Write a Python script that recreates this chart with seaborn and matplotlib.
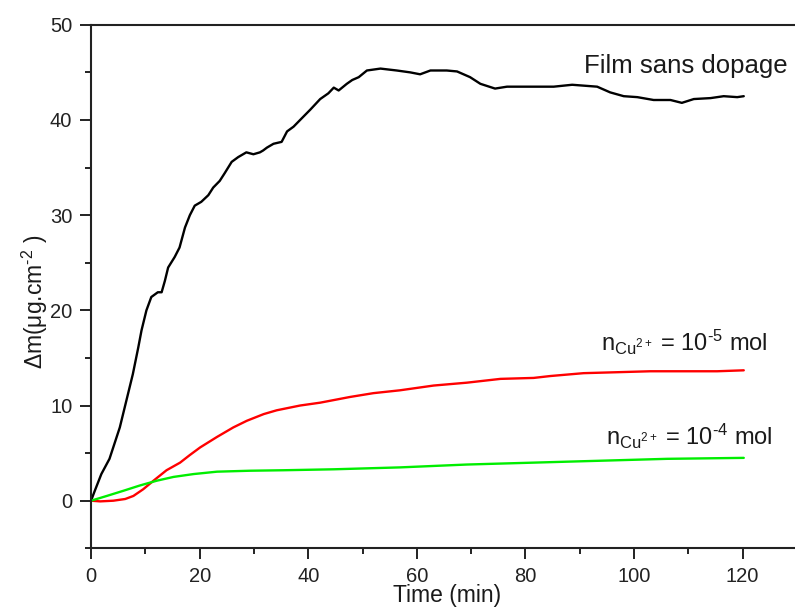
import numpy as np
import pandas as pd
import matplotlib
matplotlib.use("Agg")
import matplotlib.pyplot as plt
from matplotlib.ticker import MultipleLocator
import seaborn as sns

# ---- data ----
t_black = [0, 0.7, 1.9, 3.4, 5.3, 6.8, 7.7, 8.7, 9.3, 10.2, 11.1, 12.3, 13.0, 13.6,
           14.2, 15.4, 16.3, 17.3, 18.2, 19.1, 20.3, 21.6, 22.5, 23.7, 24.6, 25.9,
           27.1, 28.6, 29.9, 31.1, 31.7, 32.4, 33.6, 35.1, 36.1, 37.3, 38.5, 40.4,
           42.2, 43.7, 44.7, 45.6, 47.1, 48.1, 49.3, 50.8, 53.3, 56.3, 58.8, 60.6,
           62.5, 65.5, 67.4, 69.8, 71.7, 74.4, 76.6, 80.3, 85.2, 88.6, 93.2, 95.6,
           98.1, 100.6, 103.6, 106.7, 108.8, 111.0, 114.1, 116.5, 119.0, 120.2]
v_black = [0, 1.05, 2.8, 4.4, 7.7, 11.2, 13.3, 16.1, 17.9, 20.0, 21.4, 21.9, 21.9, 23.1,
           24.5, 25.6, 26.6, 28.7, 30.0, 31.0, 31.4, 32.1, 32.9, 33.6, 34.4, 35.6,
           36.1, 36.6, 36.4, 36.6, 36.8, 37.1, 37.5, 37.7, 38.8, 39.3, 40.0, 41.1,
           42.2, 42.8, 43.4, 43.1, 43.8, 44.2, 44.5, 45.2, 45.4, 45.2, 45.0, 44.8,
           45.2, 45.2, 45.1, 44.5, 43.8, 43.3, 43.5, 43.5, 43.5, 43.7, 43.5, 42.9,
           42.5, 42.4, 42.1, 42.1, 41.8, 42.2, 42.3, 42.5, 42.4, 42.5]

t_red = [0, 1.7, 4.1, 6.3, 7.8, 9.6, 11.5, 13.9, 16.4, 18.2, 20.1, 23.2, 26.2, 28.7,
         31.8, 34.2, 38.5, 42.2, 47.7, 52.0, 56.9, 63.1, 69.2, 75.4, 81.5, 84.6,
         90.7, 96.9, 103.0, 109.1, 115.3, 120.2]
v_red = [0, -0.07, 0.0, 0.18, 0.5, 1.2, 2.1, 3.2, 4.0, 4.8, 5.6, 6.7, 7.7, 8.4,
         9.1, 9.5, 10.0, 10.3, 10.9, 11.3, 11.6, 12.1, 12.4, 12.8, 12.9, 13.1,
         13.4, 13.5, 13.6, 13.6, 13.6, 13.7]

t_green = [0, 2.9, 6.0, 9.0, 12.1, 15.2, 18.9, 23.2, 29.3, 35.4, 44.7, 56.9, 69.2,
           81.5, 93.8, 106.1, 120.2]
v_green = [0, 0.5, 1.05, 1.6, 2.1, 2.5, 2.8, 3.05, 3.15, 3.2, 3.3, 3.5, 3.8,
           4.0, 4.2, 4.4, 4.5]

x_ticks = [0, 20, 40, 60, 80, 100, 120]
y_ticks = [0, 10, 20, 30, 40, 50]

label_black = "Film sans dopage"
label_red = r"$\mathregular{n_{Cu^{2+}}}$ = 10$^{\text{-5}}$ mol"
label_green = r"$\mathregular{n_{Cu^{2+}}}$ = 10$^{\text{-4}}$ mol"

# ---- styling ----
sns.set_style("ticks")
plt.rcParams["font.family"] = ["Liberation Sans", "DejaVu Sans"]
plt.rcParams["mathtext.fontset"] = "custom"
plt.rcParams["mathtext.rm"] = "Liberation Sans"
plt.rcParams["mathtext.it"] = "Liberation Sans:italic"
plt.rcParams["mathtext.bf"] = "Liberation Sans:bold"
plt.rcParams["mathtext.sf"] = "Liberation Sans"
plt.rcParams["text.color"] = "#1a1a1a"

fig = plt.figure(figsize=(7.95, 6.08), dpi=100)
ax = fig.add_axes([0.1145, 0.0982, 0.888, 0.861])

df_b = pd.DataFrame({"t": t_black, "v": v_black})
df_r = pd.DataFrame({"t": t_red, "v": v_red})
df_g = pd.DataFrame({"t": t_green, "v": v_green})

sns.lineplot(data=df_b, x="t", y="v", ax=ax, color="black", linewidth=1.7,
             sort=False, estimator=None)
sns.lineplot(data=df_r, x="t", y="v", ax=ax, color="#ff0000", linewidth=1.7,
             sort=False, estimator=None)
sns.lineplot(data=df_g, x="t", y="v", ax=ax, color="#00ee00", linewidth=1.7,
             sort=False, estimator=None)

ax.set_xlim(0, 130)
ax.set_ylim(-5, 50)
ax.set_xticks(x_ticks)
ax.set_yticks(y_ticks)
ax.xaxis.set_minor_locator(MultipleLocator(10))
ax.yaxis.set_minor_locator(MultipleLocator(5))

for side in ["left", "bottom", "top"]:
    ax.spines[side].set_linewidth(1.5)
    ax.spines[side].set_color("#222222")
ax.spines["right"].set_visible(False)

ax.tick_params(which="major", direction="out", length=8, width=1.4,
               labelsize=14.5, pad=5.5, colors="#222222", top=False, right=False)
ax.tick_params(which="minor", direction="out", length=4.5, width=1.4,
               colors="#222222", top=False, right=False)

ax.set_xlabel("Time (min)", fontsize=16.5, color="#1a1a1a")
ax.set_ylabel(r"Δm(μg.cm$^{\text{-2}}$ )", fontsize=16.5, color="#1a1a1a")
ax.xaxis.set_label_coords(0.504, -0.069)
ax.yaxis.set_label_coords(-0.058, 0.471)

ax.text(90.7, 44.9, label_black, fontsize=18.5, ha="left", va="baseline")
ax.text(94.0, 15.7, label_red, fontsize=17, ha="left", va="baseline")
ax.text(94.8, 5.9, label_green, fontsize=17, ha="left", va="baseline")

fig.savefig("out.png", dpi=100)
